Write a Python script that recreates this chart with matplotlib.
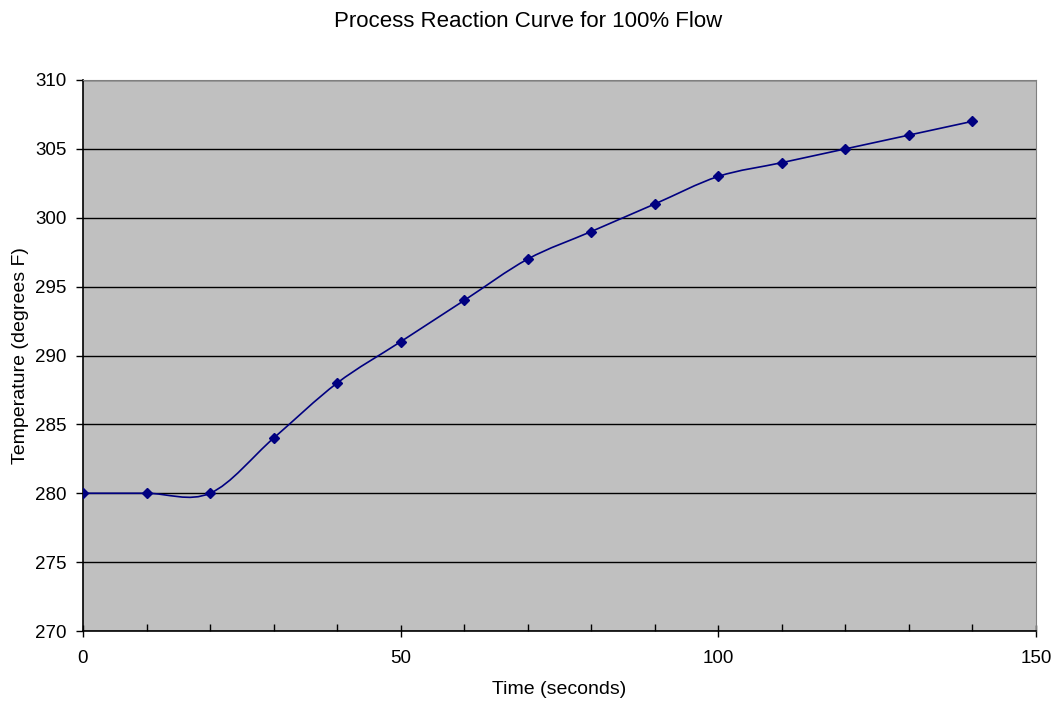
import matplotlib.pyplot as plt
from matplotlib.path import Path
from matplotlib.patches import PathPatch
from matplotlib.ticker import MultipleLocator

plt.rcParams['font.family'] = ['Liberation Sans', 'DejaVu Sans']

# Data
time_s = [0, 10, 20, 30, 40, 50, 60, 70, 80, 90, 100, 110, 120, 130, 140]
temp_f = [280, 280, 280, 284, 288, 291, 294, 297, 299, 301, 303, 304, 305, 306, 307]

NAVY = "#000080"

fig = plt.figure(figsize=(10.57, 7.04), dpi=100)
ax = fig.add_axes([83 / 1057, 1 - 631 / 704, (1036 - 83) / 1057, (631 - 80) / 704])
ax.set_facecolor("#C0C0C0")

# Excel-style smoothed line: cubic Bezier segments through the points
verts = [(time_s[0], temp_f[0])]
codes = [Path.MOVETO]
n = len(time_s)
for i in range(n - 1):
    x0, y0 = time_s[max(i - 1, 0)], temp_f[max(i - 1, 0)]
    x1, y1 = time_s[i], temp_f[i]
    x2, y2 = time_s[i + 1], temp_f[i + 1]
    x3, y3 = time_s[min(i + 2, n - 1)], temp_f[min(i + 2, n - 1)]
    c1 = (x1 + (x2 - x0) / 6, y1 + (y2 - y0) / 6)
    c2 = (x2 - (x3 - x1) / 6, y2 - (y3 - y1) / 6)
    verts += [c1, c2, (x2, y2)]
    codes += [Path.CURVE4] * 3
ax.add_patch(PathPatch(Path(verts, codes), facecolor="none", edgecolor=NAVY,
                       linewidth=1.2, zorder=3))
ax.plot(time_s, temp_f, linestyle="none", marker="D", markersize=5.5,
        color=NAVY, zorder=4)

ax.set_xlim(0, 150)
ax.set_ylim(270, 310)
ax.xaxis.set_major_locator(MultipleLocator(50))
ax.xaxis.set_minor_locator(MultipleLocator(10))
ax.yaxis.set_major_locator(MultipleLocator(5))

ax.set_axisbelow(True)
ax.yaxis.grid(True, color="black", linewidth=1)

for side in ["top", "right"]:
    ax.spines[side].set_color("#808080")
for side in ["left", "bottom"]:
    ax.spines[side].set_color("black")
    ax.spines[side].set_linewidth(1.2)

ax.tick_params(axis="x", which="major", direction="inout", length=9, width=1,
               labelsize=13.5, pad=9)
ax.tick_params(axis="x", which="minor", direction="in", length=5, width=1)
ax.tick_params(axis="y", direction="out", length=5, width=1, labelsize=13.5, pad=7)

fig.text(0.5, 0.97, "Process Reaction Curve for 100% Flow", ha="center",
         va="center", fontsize=16)
ax.set_xlabel("Time (seconds)", fontsize=14, labelpad=10)
ax.set_ylabel("Temperature (degrees F)", fontsize=14, labelpad=4)

fig.savefig("out.png", dpi=100)
